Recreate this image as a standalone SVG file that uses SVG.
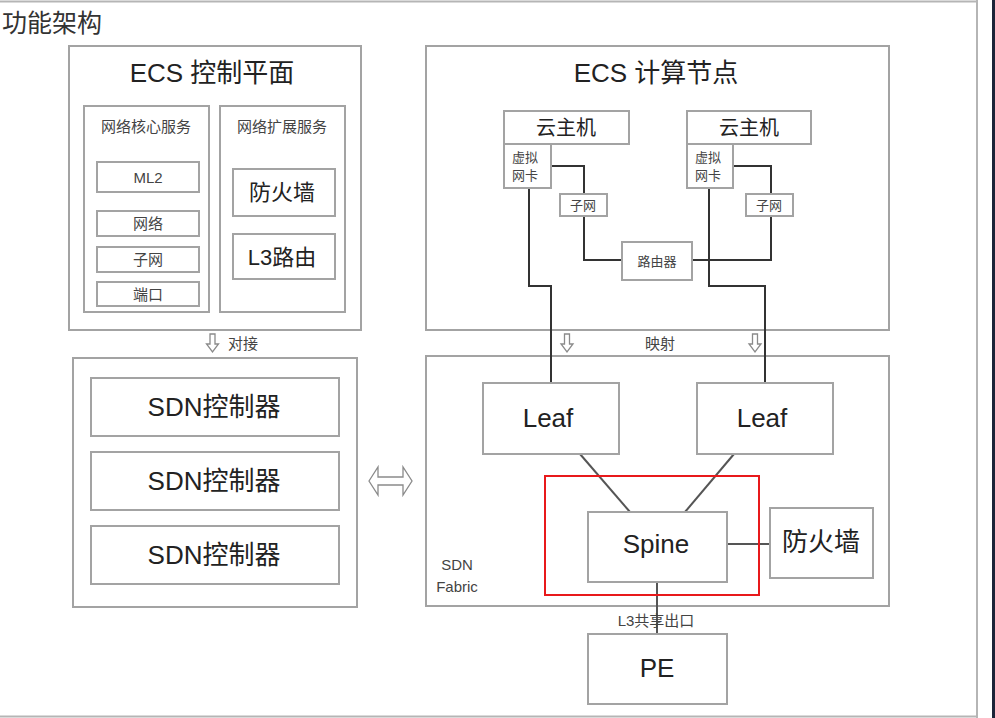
<svg xmlns="http://www.w3.org/2000/svg" width="995" height="718" viewBox="0 0 995 718">
<style>
text{font-family:"Liberation Sans","Noto Sans CJK SC",sans-serif;fill:#222}
.b{fill:#fff;stroke:#a3a3a3;stroke-width:2}
.s{font-size:15px;fill:#444}
.xs{font-size:13px;fill:#444}
.m{font-size:22px}
.v{font-size:20px}
.l{font-size:26px}
.c{text-anchor:middle}
.ln{fill:none;stroke:#333;stroke-width:2}
.ln2{fill:none;stroke:#555;stroke-width:2}
.ar{fill:#fff;stroke:#8a8a8a;stroke-width:1.3}
</style>
<rect x="0" y="0" width="995" height="718" fill="#fff"/>
<g id="frame">
<line x1="0" y1="1.5" x2="977" y2="1.5" stroke="#b5b5b5" stroke-width="2"/>
<line x1="977" y1="0" x2="977" y2="718" stroke="#b5b5b5" stroke-width="2"/>
<line x1="0" y1="716.5" x2="977" y2="716.5" stroke="#b5b5b5" stroke-width="2"/>
<rect x="992" y="0" width="3" height="718" fill="#1c2438"/>
</g>
<text x="2" y="32" style="font-size:25px;fill:#333">功能架构</text>

<g id="ecs-control">
<rect class="b" x="69" y="46" width="292" height="284"/>
<text class="l c" x="212" y="82">ECS 控制平面</text>
</g>
<g id="core-services">
<rect class="b" x="84" y="106" width="125" height="206"/>
<text class="s c" x="146" y="132">网络核心服务</text>
</g>
<g id="ml2"><rect class="b" x="97" y="162" width="102" height="30"/><text class="s c" x="148" y="183">ML2</text></g>
<g id="network"><rect class="b" x="97" y="211" width="102" height="25"/><text class="s c" x="148" y="229">网络</text></g>
<g id="subnet"><rect class="b" x="97" y="247" width="102" height="25"/><text class="s c" x="148" y="265">子网</text></g>
<g id="port"><rect class="b" x="97" y="282" width="102" height="24"/><text class="s c" x="148" y="300">端口</text></g>
<g id="ext-services">
<rect class="b" x="220" y="106" width="125" height="206"/>
<text class="s c" x="282" y="132">网络扩展服务</text>
</g>
<g id="firewall-svc"><rect class="b" x="233" y="169" width="102" height="47"/><text class="m c" x="282" y="200">防火墙</text></g>
<g id="l3-route"><rect class="b" x="233" y="234" width="102" height="45"/><text class="m c" x="282" y="265">L3路由</text></g>

<g id="sdn-controllers">
<rect class="b" x="73" y="358" width="284" height="249"/>
</g>
<g id="ctrl1"><rect class="b" x="91" y="378" width="248" height="58"/><text class="l c" x="214" y="416">SDN控制器</text></g>
<g id="ctrl2"><rect class="b" x="91" y="452" width="248" height="58"/><text class="l c" x="214" y="490">SDN控制器</text></g>
<g id="ctrl3"><rect class="b" x="91" y="526" width="248" height="58"/><text class="l c" x="214" y="564">SDN控制器</text></g>

<g id="ecs-compute">
<rect class="b" x="426" y="46" width="463" height="284"/>
<text class="l c" x="656" y="82">ECS 计算节点</text>
</g>
<g id="fabric">
<rect class="b" x="426" y="356" width="463" height="250"/>
<text class="s c" x="457" y="570">SDN</text>
<text class="s c" x="457" y="592">Fabric</text>
</g>

<g id="connectors">
<polyline class="ln" points="551,166 584,166 584,194"/>
<polyline class="ln" points="584,216 584,260 622,260"/>
<polyline class="ln" points="733,166 771,166 771,194"/>
<polyline class="ln" points="771,216 771,260 692,260"/>
<polyline class="ln" points="529,188 529,286 551,286 551,383"/>
<polyline class="ln" points="709,188 709,286 765,286 765,383"/>
<line class="ln2" x1="580" y1="454" x2="630" y2="512"/>
<line class="ln2" x1="734" y1="454" x2="685" y2="512"/>
<line class="ln2" x1="727" y1="544" x2="770" y2="544"/>
<line class="ln2" x1="657" y1="582" x2="657" y2="634"/>
</g>

<g id="vm1">
<rect class="b" x="504" y="111" width="125" height="33"/><text class="v c" x="566" y="135">云主机</text>
</g>
<g id="vnic1">
<rect class="b" x="504" y="144" width="47" height="44"/><text class="xs" x="512" y="162">虚拟</text><text class="xs" x="512" y="180">网卡</text>
</g>
<g id="subnet1"><rect class="b" x="560" y="194" width="47" height="22"/><text class="xs c" x="583" y="210">子网</text></g>
<g id="router"><rect class="b" x="622" y="242" width="70" height="38"/><text class="xs c" x="657" y="266">路由器</text></g>
<g id="vm2">
<rect class="b" x="687" y="111" width="124" height="33"/><text class="v c" x="749" y="135">云主机</text>
</g>
<g id="vnic2">
<rect class="b" x="687" y="144" width="46" height="44"/><text class="xs" x="695" y="162">虚拟</text><text class="xs" x="695" y="180">网卡</text>
</g>
<g id="subnet2"><rect class="b" x="746" y="194" width="47" height="22"/><text class="xs c" x="769" y="210">子网</text></g>

<g id="leaf1"><rect class="b" x="483" y="383" width="136" height="71"/><text class="l c" x="548" y="427">Leaf</text></g>
<g id="leaf2"><rect class="b" x="697" y="383" width="136" height="71"/><text class="l c" x="762" y="427">Leaf</text></g>
<g id="spine"><rect class="b" x="588" y="512" width="139" height="70"/><text class="l c" x="656" y="553">Spine</text></g>
<g id="firewall"><rect class="b" x="770" y="508" width="103" height="70"/><text class="l c" x="821" y="551">防火墙</text></g>
<g id="pe"><rect class="b" x="588" y="634" width="139" height="70"/><text class="l c" x="657" y="677">PE</text></g>
<rect id="highlight" x="545" y="476" width="214" height="119" fill="none" stroke="#e8191b" stroke-width="2"/>
<text class="s c" x="656" y="626">L3共享出口</text>

<g id="labels">
<path class="ar" d="M210,334 h5 v10 h3.5 l-6,8 l-6,-8 h3.5 z"/>
<text class="s" x="228" y="349">对接</text>
<path class="ar" d="M564.5,334 h5 v10 h3.5 l-6,8 l-6,-8 h3.5 z"/>
<path class="ar" d="M752.5,334 h5 v10 h3.5 l-6,8 l-6,-8 h3.5 z"/>
<text class="s c" x="660" y="349">映射</text>
<path class="ar" d="M369,481 L378,467 L378,477 L403,477 L403,467 L412,481 L403,495 L403,485 L378,485 L378,495 Z"/>
</g>
</svg>
